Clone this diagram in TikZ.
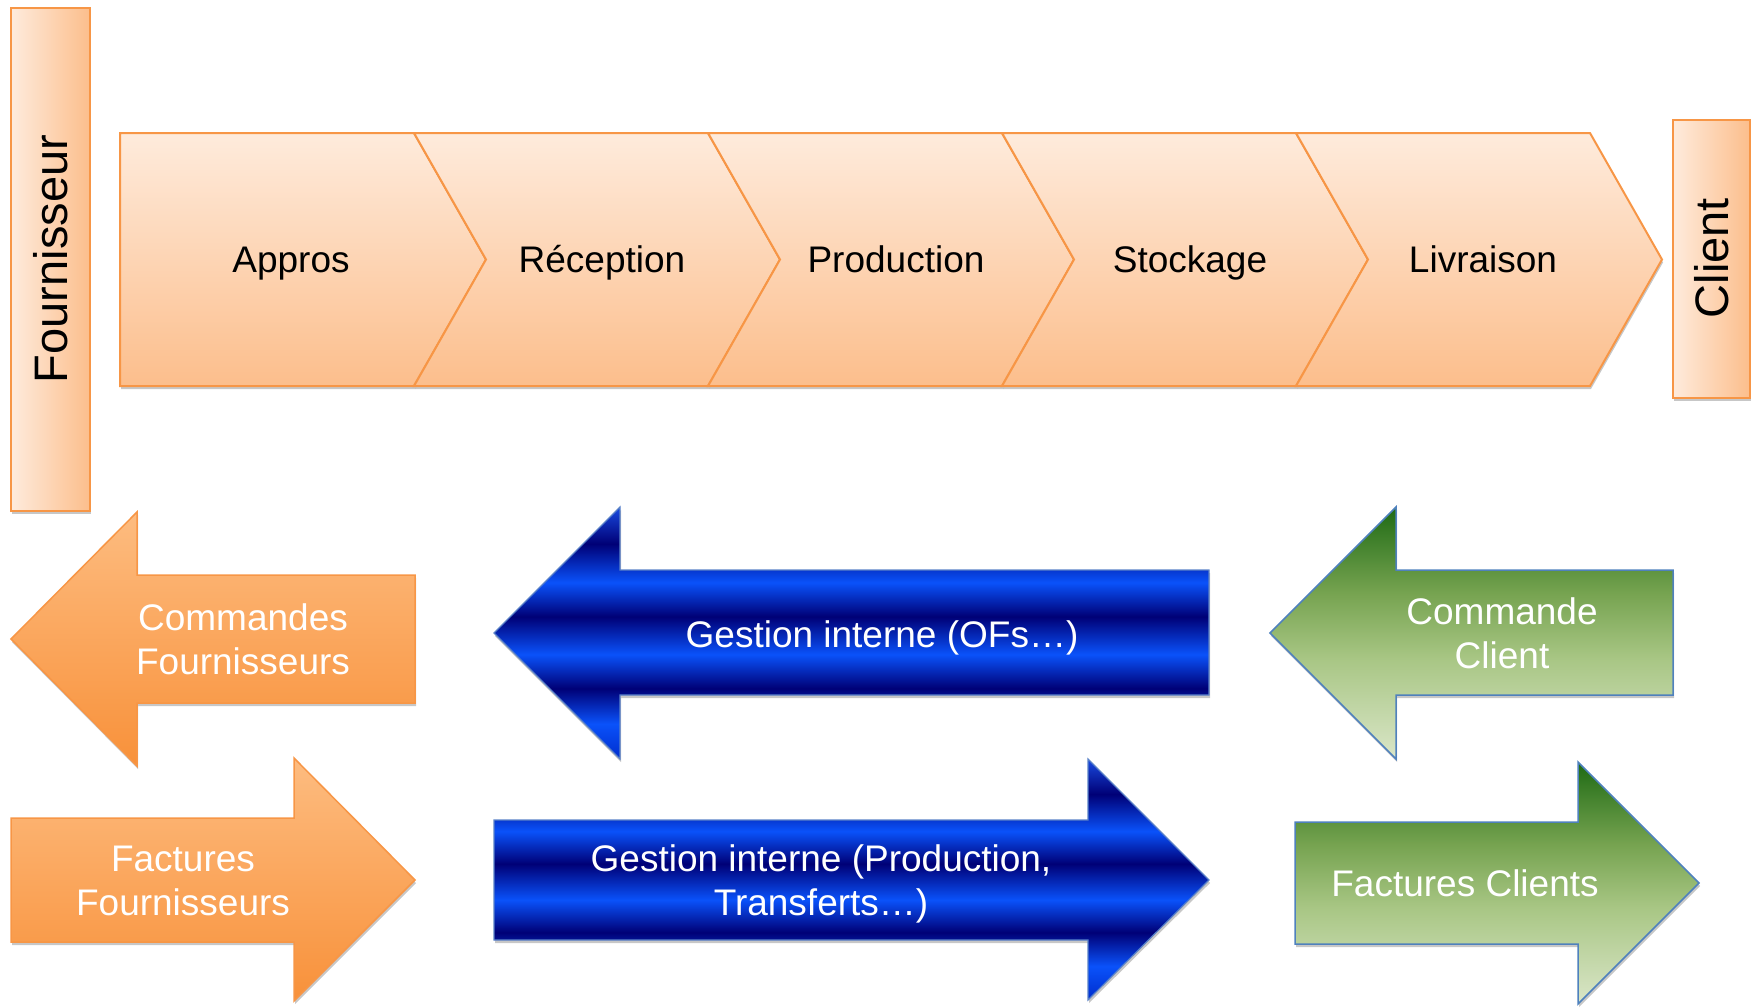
\documentclass[tikz,border=0pt]{standalone}
\usepackage{fontspec}
\setmainfont{Liberation Sans}
\usetikzlibrary{shadows}
\definecolor{orangeline}{RGB}{247,150,70}
\definecolor{chevtop}{RGB}{254,235,220}
\definecolor{chevbot}{RGB}{252,190,140}
\definecolor{arrtop}{RGB}{253,188,128}
\definecolor{arrbot}{RGB}{248,145,58}
\definecolor{bluebright}{RGB}{10,82,250}
\definecolor{bluedark}{RGB}{0,0,118}
\definecolor{bluetop}{RGB}{25,75,225}
\definecolor{bluebottom}{RGB}{0,45,205}
\definecolor{blueline}{RGB}{90,130,200}
\definecolor{greenA}{RGB}{30,106,20}
\definecolor{greenB}{RGB}{118,163,80}
\definecolor{greenC}{RGB}{168,198,132}
\definecolor{greenD}{RGB}{218,230,200}
\definecolor{greenline}{RGB}{79,129,189}
\pgfdeclareverticalshading{metalblue}{100bp}{color(0bp)=(bluebottom); color(25bp)=(bluebottom); color(32bp)=(bluebright); color(39bp)=(bluedark); color(45.75bp)=(bluebright); color(53.25bp)=(bluedark); color(60bp)=(bluebright); color(67.7bp)=(bluedark); color(75bp)=(bluetop); color(100bp)=(bluetop)}
\pgfdeclareverticalshading{greengrad}{100bp}{color(0bp)=(greenD); color(25bp)=(greenD); color(45bp)=(greenC); color(58bp)=(greenB); color(75bp)=(greenA); color(100bp)=(greenA)}
\begin{document}
\begin{tikzpicture}[x=1pt,y=-1pt,
  shad/.style={drop shadow={opacity=0.22, fill=black, shadow xshift=1pt, shadow yshift=-3pt}},
  chev/.style={shad, draw=orangeline, line width=2pt, top color=chevtop, bottom color=chevbot, line join=miter},
  sidebox/.style={shad, draw=orangeline, line width=2.5pt, left color=chevtop, right color=chevbot},
  orarrow/.style={shad, draw=orangeline, line width=1.5pt, top color=arrtop, bottom color=arrbot},
  bluearrow/.style={shad, draw=blueline, line width=1.2pt, shading=metalblue},
  grarrow/.style={shad, draw=greenline, line width=1.5pt, shading=greengrad},
  lbl/.style={font=\fontsize{37}{44.5}\selectfont, align=center, inner sep=0pt, text height=26.5pt, text depth=0pt},
  wlbl/.style={lbl, text=white},
  wlbltwo/.style={wlbl, yshift=-22.25pt},
  side/.style={font=\fontsize{47}{56}\selectfont, inner sep=0pt, rotate=90, text height=33.6pt, text depth=0pt}]
\useasboundingbox (0,0) rectangle (1758,1007);

% side boxes
\path[sidebox] (11,8) rectangle (90,511);
\path[sidebox] (1673,120) rectangle (1750,398);
\node[side] (fournisseur) at (51,259) {Fournisseur};
\node[side] (client) at (1712,258) {Client};

% chevrons
\path[chev] (120,133) -- (414,133) -- (486,259.5) -- (414,386) -- (120,386) -- cycle;
\foreach \s in {414,708,1002,1296}{
  \path[chev] (\s,133) -- (\s+294,133) -- (\s+366,259.5) -- (\s+294,386) -- (\s,386) -- (\s+72,259.5) -- cycle;
}
\node[lbl] (appros) at (291,259) {Appros};
\node[lbl] (reception) at (602,259) {Réception};
\node[lbl] (production) at (896,259) {Production};
\node[lbl] (stockage) at (1190,259) {Stockage};
\node[lbl] (livraison) at (1483,259) {Livraison};

% orange arrows
\path[orarrow] (11,639) -- (137,512) -- (137,575) -- (415,575) -- (415,703) -- (137,703) -- (137,766) -- cycle;
\path[orarrow] (11,818) -- (294,818) -- (294,758) -- (415,880) -- (294,1001) -- (294,942) -- (11,942) -- cycle;
\node[wlbltwo] (cmdf) at (243,639) {Commandes\\Fournisseurs};
\node[wlbltwo] (factf) at (183,880) {Factures\\Fournisseurs};

% blue arrows
\path[bluearrow] (494,633) -- (620,507) -- (620,570) -- (1209,570) -- (1209,695) -- (620,695) -- (620,759) -- cycle;
\path[bluearrow] (494,820) -- (1088,820) -- (1088,759) -- (1209,880) -- (1088,1000) -- (1088,940) -- (494,940) -- cycle;
\node[wlbl] (gestof) at (882,634) {Gestion interne (OFs…)};
\node[wlbltwo] (gestprod) at (821,880) {Gestion interne (Production,\\Transferts…)};

% green arrows
\path[grarrow] (1270,633) -- (1396,507) -- (1396,570) -- (1673,570) -- (1673,695) -- (1396,695) -- (1396,759) -- cycle;
\path[grarrow] (1295,822) -- (1578,822) -- (1578,762) -- (1699,883) -- (1578,1004) -- (1578,944) -- (1295,944) -- cycle;
\node[wlbltwo] (cmdc) at (1502,633) {Commande\\Client};
\node[wlbl] (factc) at (1465,883) {Factures Clients};
\end{tikzpicture}
\end{document}
